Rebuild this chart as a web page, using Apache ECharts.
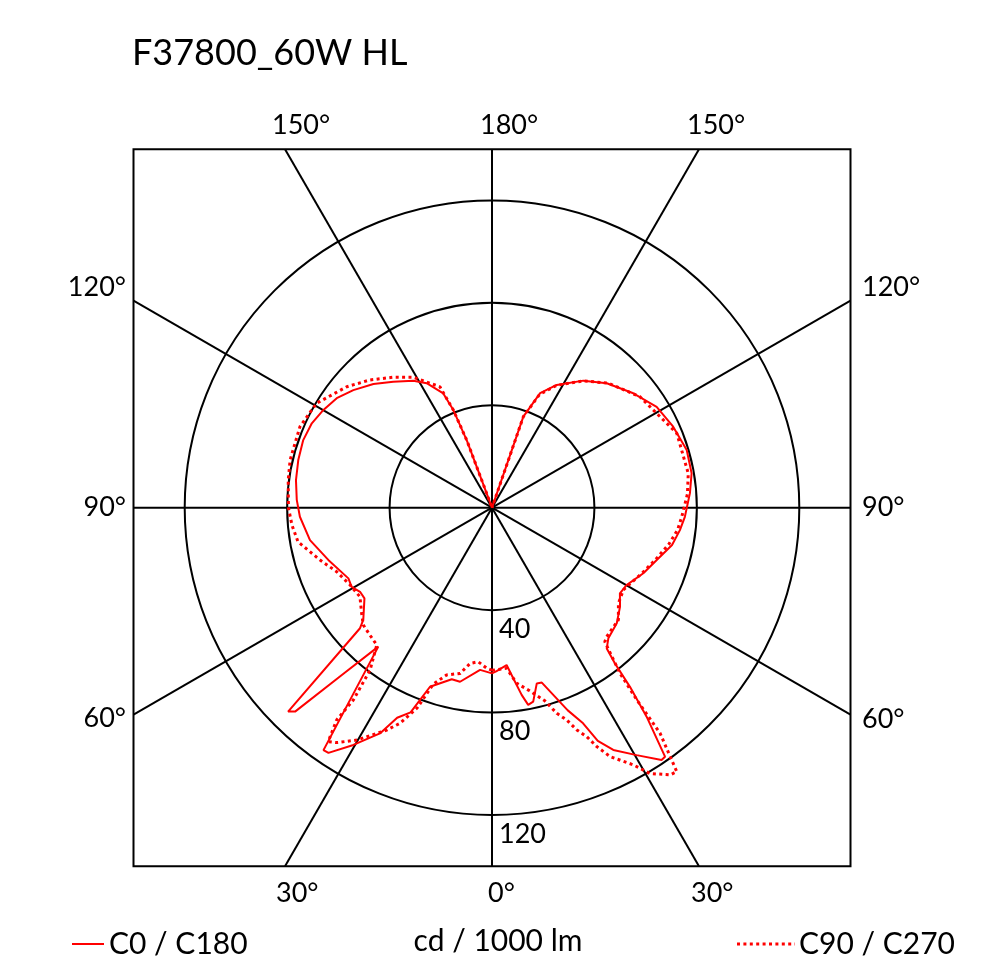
<!DOCTYPE html>
<html><head><meta charset="utf-8">
<script src="https://cdn.jsdelivr.net/npm/echarts@6/dist/echarts.min.js"></script>
<style>html,body{margin:0;padding:0;background:#fff}#c{width:988px;height:980px}</style>
</head><body><div id="c"></div><script>
// ---------- data ----------
const TITLE = 'F37800_60W HL';
const UNIT_LABEL = 'cd / 1000 lm';
const LEGEND_SOLID = 'C0 / C180';
const LEGEND_DOTTED = 'C90 / C270';
const RINGS = [40, 80, 120];
const SPOKES = [0, 30, 60, 90, 120, 150, 180, 210, 240, 270, 300, 330];
const TOP_LABELS = ['150°', '180°', '150°'];
const BOTTOM_LABELS = ['30°', '0°', '30°'];
const SIDE_LABELS = ['120°', '90°', '60°'];

// [gamma (deg), cd/klm]
const C0 = [[0,64.7],[1.6,63.8],[5.3,61.7],[7.1,67.1],[9,74],[10.4,78.3],[12,77.4],[14.3,70.8],[15.9,71],[18.5,78],[20.5,84.5],[22.9,91.4],[24.4,100],[26.6,105.8],[30.3,111.9],[33.9,118.7],[34.8,118.4],[36.5,101.5],[37.6,88.3],[38.3,77.4],[39.2,70.9],[41.7,68.3],[47.2,66.4],[52.3,63.2],[56.2,60.1],[60.1,60.6],[66.6,64.4],[72.4,67.5],[78.3,71.8],[83.2,73.9],[87.3,75.4],[94.2,77.5],[99.8,79.1],[106.5,79.3],[114.1,77.5],[121.5,75.4],[129,71],[137.3,66.1],[144.3,61.1],[152.2,54.2],[157.2,48.5],[161,37.6],[165,0],[180,0]];
const C180 = [[0,64.7],[4.2,63.5],[10.4,69.1],[13.2,68.8],[19.1,74],[21.7,86],[24.3,90],[26.4,98.4],[30.3,107.3],[33.7,115.1],[34.8,115.3],[39.3,70.1],[41.9,87.8],[44,110.7],[45,112.6],[47.6,69.8],[48.9,66.7],[54.6,61.1],[57.5,61.1],[60.6,62.9],[63.8,62.5],[72.3,67.1],[79.9,72.2],[87.3,75.1],[92.3,76.3],[98,77.3],[103.8,77.9],[109.7,78.3],[115.1,77.7],[120.1,76.1],[125.2,74.2],[130.3,71],[136.2,66.9],[141.9,62.5],[148.2,58.3],[152.3,54.9],[156.9,48.5],[158.4,41],[159.5,28],[163,0],[180,0]];
const C90 = [[0,63.5],[5.2,63],[8,69.2],[11.6,73],[15.3,78.2],[17.5,84.2],[19.4,87.9],[20.9,92.9],[22.5,96.8],[23.7,101.9],[25.4,107.6],[28.8,114.6],[30.7,120.7],[33.7,125.4],[35,125.8],[35.6,119.5],[36.7,109.8],[37,94],[37.7,81.7],[40.1,68.4],[41.6,67.4],[48.4,66],[52.9,61.9],[58,60.5],[66.6,64],[72.4,67],[78.3,70.5],[83.2,73],[87.3,74.2],[94,76.5],[99.9,77.8],[111.9,77.8],[126.9,72.2],[137,66.5],[144.3,61],[152.2,54],[157.2,48],[161,37.6],[165,0],[180,0]];
const C270 = [[0,63.5],[1.9,62.7],[5.1,60.4],[8,61.4],[10.9,65.9],[15.2,67.7],[18.4,72.6],[20.5,83.5],[23.1,91.5],[25.3,96],[30.2,105],[33.5,110],[35,111.5],[36.2,102.7],[35.8,92.6],[36.9,79.3],[40,70],[43.8,68.9],[47.7,68],[51,65.5],[56,62.2],[61.4,63.1],[67.6,65.6],[73.1,70.2],[80,76.9],[85,78.4],[90,79.5],[97.7,80.3],[103.3,81],[112.9,81.4],[120.8,79.7],[129.8,73.8],[136.3,69],[142.9,63.9],[148.9,59.5],[156.7,51.4],[158.4,41],[159.5,28],[163,0],[180,0]];

// ---------- layout ----------
const CX = 492, CY = 507.7;
const K = 307.3 / 120;                 // px per cd/klm
const BOX = 358.5;                     // half side of square frame
const POLAR_MAX = BOX / K / Math.cos(Math.PI / 6);  // reaches frame corners of 30° spokes
const POLAR_PX = POLAR_MAX * K;
const FONT = 'Lato, "Noto Sans", sans-serif';
const RED = '#ff0000';
const GRID_W = 2;
const DOT_STYLE = { color: RED, width: 3, type: [3, 3.4] };

function edgeRadius(a) {
  const t = a * Math.PI / 180;
  return BOX / K / Math.max(Math.abs(Math.sin(t)), Math.abs(Math.cos(t)));
}
const right = arr => arr.map(p => [p[1], p[0]]);
const left = arr => arr.map(p => [p[1], 360 - p[0]]);

const series = [];
SPOKES.forEach(a => {
  series.push({
    type: 'line', coordinateSystem: 'polar', silent: true, clip: false,
    symbol: 'none', z: 1, animation: false,
    lineStyle: { color: '#000', width: GRID_W },
    data: [[0, a], [edgeRadius(a), a]]
  });
});
const redSeries = [
  { name: LEGEND_SOLID, data: right(C0), dotted: false },
  { name: LEGEND_SOLID, data: left(C180), dotted: false },
  { name: LEGEND_DOTTED, data: right(C90), dotted: true },
  { name: LEGEND_DOTTED, data: left(C270), dotted: true }
];
redSeries.forEach(s => {
  series.push({
    type: 'line', coordinateSystem: 'polar', name: s.name, clip: false,
    symbol: 'none', z: 5, animation: false, silent: true,
    lineStyle: s.dotted ? DOT_STYLE : { color: RED, width: 2 },
    data: s.data
  });
});

const tan30 = Math.tan(Math.PI / 6);
const topX = [CX - BOX * tan30, CX, CX + BOX * tan30];
const topOff = [-13, -12, -12];
const botOff = [-9, -4, -8];
const leftY = [CY - 220.7, CY, CY + 211];
const rightY = [CY - 220.2, CY, CY + 211.5];

const txt = (text, x, y, size, align, valign) => ({
  type: 'text', x: x, y: y, silent: true, z: 10,
  style: { text: text, font: size + 'px ' + FONT, fill: '#000',
           align: align, textAlign: align, verticalAlign: valign, textVerticalAlign: valign }
});

const graphic = [
  { type: 'rect', silent: true, z: 0,
    shape: { x: CX - BOX, y: CY - BOX, width: 2 * BOX, height: 2 * BOX },
    style: { fill: 'none', stroke: '#000', lineWidth: 2 } },
  txt(TITLE, 132, 53, 36, 'left', 'middle'),
  txt(UNIT_LABEL, 498, 941, 30, 'center', 'middle'),
  txt(LEGEND_SOLID, 109, 944, 30, 'left', 'middle'),
  txt(LEGEND_DOTTED, 799, 944, 30, 'left', 'middle'),
  { type: 'line', silent: true, shape: { x1: 72, y1: 944, x2: 104, y2: 944 },
    style: { stroke: RED, lineWidth: 2 } },
  { type: 'line', silent: true, shape: { x1: 737, y1: 944, x2: 795, y2: 944 },
    style: { stroke: RED, lineWidth: DOT_STYLE.width, lineDash: DOT_STYLE.type } }
];
TOP_LABELS.forEach((t, i) => graphic.push(txt(t, topX[i] + topOff[i], CY - BOX - 24, 27, 'left', 'middle')));
BOTTOM_LABELS.forEach((t, i) => graphic.push(txt(t, topX[i] + botOff[i], CY + BOX + 27.5, 27, 'left', 'middle')));
SIDE_LABELS.forEach((t, i) => graphic.push(txt(t, CX - BOX - 7.5, leftY[i], 27, 'right', 'middle')));
SIDE_LABELS.forEach((t, i) => graphic.push(txt(t, CX + BOX + 11.5, rightY[i], 27, 'left', 'middle')));

// split-line colours: only the 40/80/120 rings are visible
const ringColors = [];
for (let v = 0; v <= POLAR_MAX + 40; v += 40) ringColors.push(RINGS.indexOf(v) >= 0 ? '#000' : 'rgba(0,0,0,0)');
ringColors.push('rgba(0,0,0,0)');

const chart = echarts.init(document.getElementById('c'), null, { renderer: 'canvas' });
chart.setOption({
  backgroundColor: '#fff',
  animation: false,
  polar: { center: [CX, CY], radius: POLAR_PX },
  angleAxis: {
    type: 'value', min: 0, max: 360, startAngle: 270, clockwise: false,
    axisLine: { show: false }, axisTick: { show: false }, axisLabel: { show: false },
    splitLine: { show: false }
  },
  radiusAxis: {
    type: 'value', min: 0, max: POLAR_MAX, interval: 40,
    axisLine: { show: false }, axisTick: { show: false }, axisLabel: { show: false },
    splitLine: { show: true, lineStyle: { color: ringColors, width: GRID_W } }
  },
  graphic: graphic,
  series: series
});

// ring value labels, positioned through the polar scale
const ringLabels = RINGS.map(r => {
  const p = chart.convertToPixel({ polarIndex: 0 }, [r, 0]);
  return txt(String(r), p[0] + 7, p[1] + 19, 27, 'left', 'middle');
});
chart.setOption({ graphic: graphic.concat(ringLabels) });
</script></body></html>
